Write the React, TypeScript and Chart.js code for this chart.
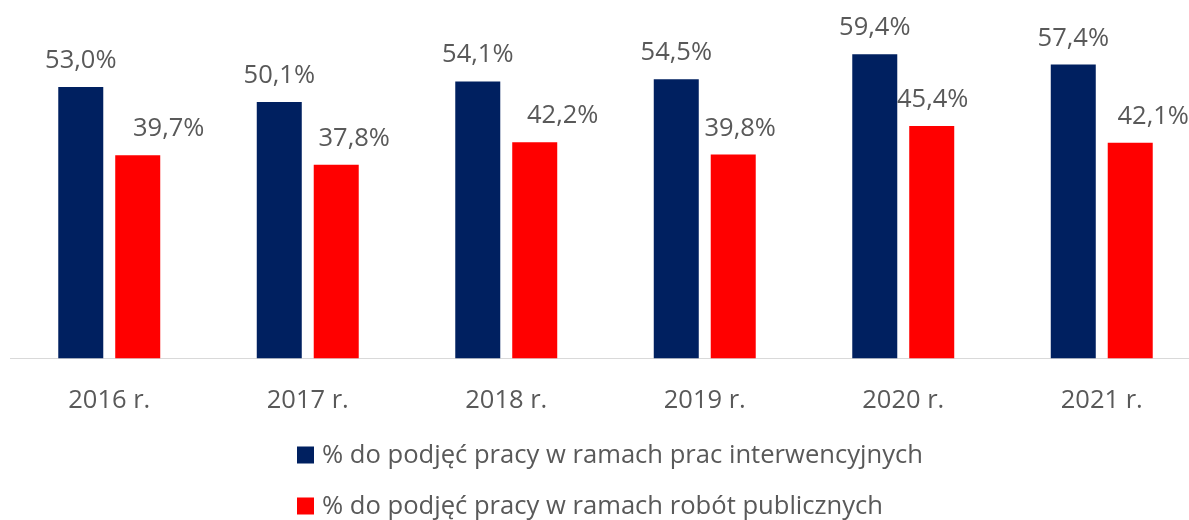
import React, { useEffect, useRef } from "react";
import { Chart, registerables } from "chart.js";

Chart.register(...registerables);

const categories = ["2016 r.", "2017 r.", "2018 r.", "2019 r.", "2020 r.", "2021 r."];
const interwencyjne = [53.0, 50.1, 54.1, 54.5, 59.4, 57.4];
const publiczne = [39.7, 37.8, 42.2, 39.8, 45.4, 42.1];
const seriesNames = [
  "% do podjęć pracy w ramach prac interwencyjnych",
  "% do podjęć pracy w ramach robót publicznych",
];
// horizontal nudge of value labels (style, not data)
const labelShiftBlue = [0, 0, 0, 0, 0, 0];
const labelShiftRed = [31, 18, 28, 7, 1, 23];

const FONT = "'Open Sans', Lato, sans-serif";
const TEXT = "#595959";

const valueLabels = {
  id: "valueLabels",
  afterDatasetsDraw(chart: any) {
    const ctx = chart.ctx;
    ctx.save();
    ctx.font = `25.5px ${FONT}`;
    ctx.fillStyle = TEXT;
    ctx.textAlign = "center";
    ctx.textBaseline = "alphabetic";
    chart.data.datasets.forEach((ds: any, di: number) => {
      const meta = chart.getDatasetMeta(di);
      const shifts = di === 0 ? labelShiftBlue : labelShiftRed;
      meta.data.forEach((el: any, i: number) => {
        const v = ds.data[i] as number;
        const txt = v.toFixed(1).replace(".", ",") + "%";
        ctx.fillText(txt, el.x + shifts[i], el.y - 19);
      });
    });
    ctx.restore();
  },
};

const customLegend = {
  id: "customLegend",
  afterDraw(chart: any) {
    const ctx = chart.ctx;
    ctx.save();
    ctx.font = `25.6px ${FONT}`;
    ctx.textBaseline = "middle";
    ctx.textAlign = "left";
    const x0 = 297;
    const rows = [455, 506];
    chart.data.datasets.forEach((ds: any, i: number) => {
      const cy = rows[i];
      ctx.fillStyle = ds.backgroundColor;
      ctx.fillRect(x0, cy - 8.5, 17, 17);
      ctx.fillStyle = TEXT;
      ctx.fillText(ds.label, x0 + 25, cy + 1);
    });
    ctx.restore();
  },
};

export default function App() {
  const ref = useRef<HTMLCanvasElement>(null);
  useEffect(() => {
    if (!ref.current) return;
    const chart = new Chart(ref.current, {
      type: "bar",
      data: {
        labels: categories,
        datasets: [
          {
            label: seriesNames[0],
            data: interwencyjne,
            backgroundColor: "#002060",
            categoryPercentage: 0.574,
            barPercentage: 0.79,
          },
          {
            label: seriesNames[1],
            data: publiczne,
            backgroundColor: "#FF0000",
            categoryPercentage: 0.574,
            barPercentage: 0.79,
          },
        ],
      },
      options: {
        responsive: false,
        animation: false,
        devicePixelRatio: 1,
        layout: { padding: { left: 10, right: 1, top: 0, bottom: 85 } },
        plugins: {
          legend: { display: false },
          tooltip: { enabled: false },
        },
        scales: {
          x: {
            grid: { display: false },
            border: { display: true, color: "#d9d9d9", width: 1 },
            ticks: {
              color: TEXT,
              font: { family: FONT, size: 25.5 },
              padding: 19,
            },
          },
          y: {
            display: false,
            min: 0,
            max: 70,
          },
        },
      },
      plugins: [valueLabels, customLegend],
    });
    return () => chart.destroy();
  }, []);
  return (
    <div
      style={{
        position: "fixed",
        left: 0,
        top: 0,
        width: 1189,
        height: 520,
        overflow: "hidden",
        background: "#fff",
      }}
    >
      <canvas ref={ref} width={1202} height={520} style={{ display: "block" }} />
    </div>
  );
}
